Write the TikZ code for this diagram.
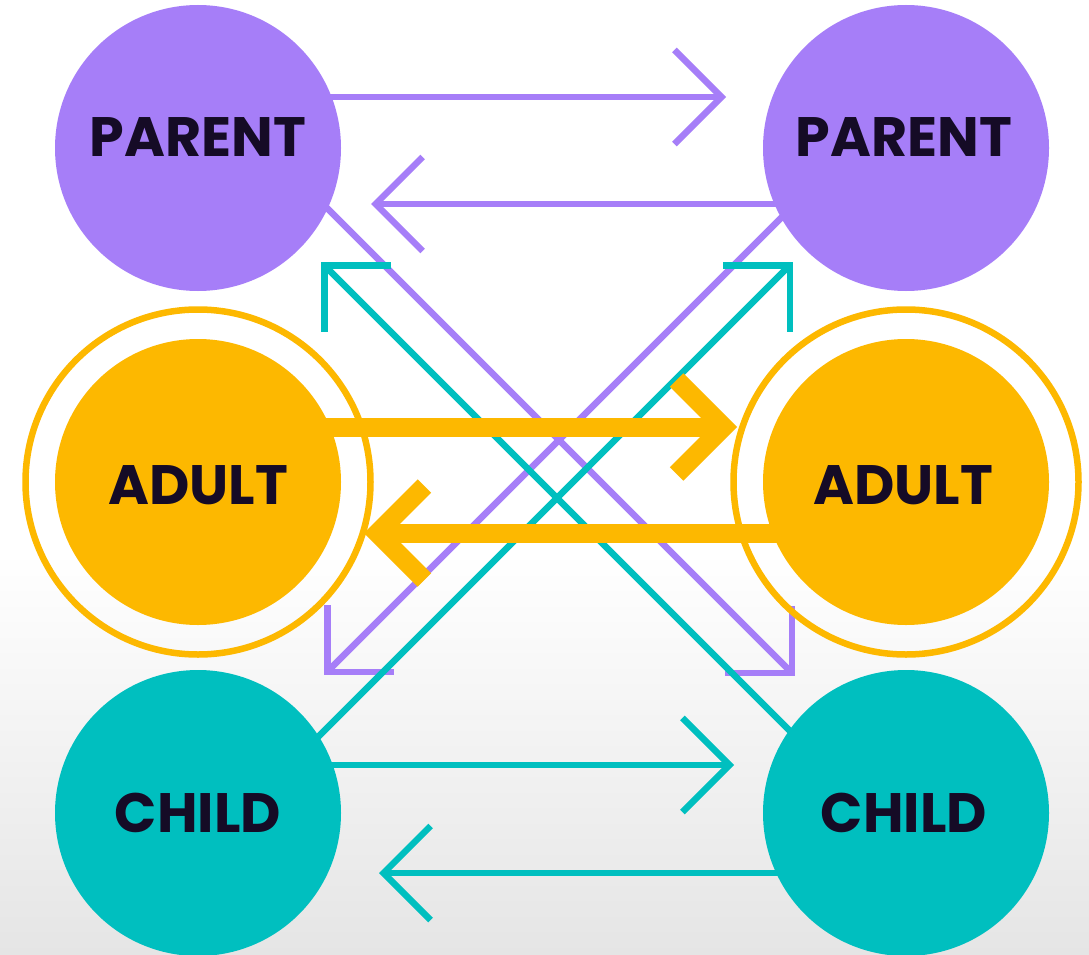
\documentclass[tikz,border=0pt]{standalone}
\usepackage{fontspec}
\setmainfont{Poppins}
\usetikzlibrary{arrows.meta,calc}
\definecolor{pp}{HTML}{A67EF8}
\definecolor{og}{HTML}{FDB800}
\definecolor{tl}{HTML}{00BFBF}
\definecolor{ink}{HTML}{150B26}
\definecolor{bggray}{HTML}{E5E5E5}
\pgfdeclarelayer{back}
\pgfdeclarelayer{thin}
\pgfdeclarelayer{rings}
\pgfdeclarelayer{thick}
\pgfsetlayers{back,thin,rings,thick,main}
\tikzset{
  circ/.style={circle, minimum size=286pt, inner sep=0pt, draw=none},
  ringst/.style={circle, minimum size=345pt, inner sep=0pt, draw=og, line width=6.5pt},
  lbl/.style={font=\fontsize{55.5}{56}\selectfont\bfseries, text=ink, inner sep=0pt},
  barb/.style={-{Straight Barb[length=47pt, width=94pt]}},
  thinP/.style={draw=pp, line width=6.5pt, barb},
  thinT/.style={draw=tl, line width=6.5pt, barb},
  thickO/.style={draw=og, line width=19pt, barb}
}
\begin{document}
\begin{tikzpicture}[x=1pt,y=-1pt]
\useasboundingbox (0,0) rectangle (1089,955);
\begin{pgfonlayer}{back}
  \fill[white] (0,0) rectangle (1089,552);
  \shade[top color=white, bottom color=bggray] (0,552) rectangle (1089,955);
\end{pgfonlayer}
% circles
\node[circ, fill=pp] (pl) at (198,148) {};
\node[circ, fill=pp] (pr) at (906,148) {};
\node[circ, fill=og] (al) at (198,482) {};
\node[circ, fill=og] (ar) at (906,482) {};
\node[circ, fill=tl] (cl) at (198,813) {};
\node[circ, fill=tl] (cr) at (906,813) {};
% labels
\node[lbl] (plt) at (198,137) {PARENT};
\node[lbl] (prt) at (904,137) {PARENT};
\node[lbl] (alt) at (198,485) {ADULT};
\node[lbl] (art) at (903,485) {ADULT};
\node[lbl] (clt) at (198,813) {CHILD};
\node[lbl] (crt) at (904,813) {CHILD};
% rings
\begin{pgfonlayer}{rings}
  \node[ringst] (alr) at (al) {};
  \node[ringst] (arr) at (ar) {};
\end{pgfonlayer}
% tips
\coordinate (tPR) at (726,97);
\coordinate (tPL) at (371,204);
\coordinate (tCR) at (734,765);
\coordinate (tCL) at (379,873);
\coordinate (tAR) at (737,427);
\coordinate (tAL) at (364,533);
\coordinate (tD1) at (795,676);
\coordinate (tD2) at (324,675);
\coordinate (tD3) at (793,262);
\coordinate (tD4) at (321,262);
\begin{pgfonlayer}{thin}
  \draw[thinP] (pl.center |- tPR) -- (tPR);
  \draw[thinP] (pr.center |- tPL) -- (tPL);
  \draw[thinT] (cl.center |- tCR) -- (tCR);
  \draw[thinT] (cr.center |- tCL) -- (tCL);
  \draw[thinP] (pl.center) ++(37,-32) -- (tD1);
  \draw[thinP] (pr.center) ++(-22,-33) -- (tD2);
  \draw[thinT] (cl.center) ++(42,2) -- (tD3);
  \draw[thinT] (cr.center) ++(-36,-2) -- (tD4);
\end{pgfonlayer}
\begin{pgfonlayer}{thick}
  \draw[thickO] (al.center |- tAR) -- (tAR);
  \draw[thickO] (ar.center |- tAL) -- (tAL);
\end{pgfonlayer}
\end{tikzpicture}
\end{document}
